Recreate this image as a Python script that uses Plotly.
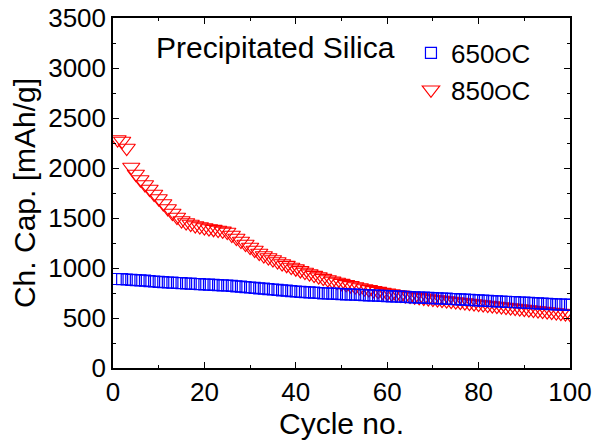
import plotly.graph_objects as go

# Charge capacity per cycle for precipitated silica annealed at two temperatures
cycles = list(range(1, 101))

cap_650 = [
    890, 888, 885, 882, 879, 876, 873, 869, 865, 861,
    858, 855, 853, 850, 848, 845, 843, 840, 838, 835,
    833, 831, 829, 827, 825, 821, 817, 813, 809, 805,
    801, 797, 793, 789, 785, 781, 777, 773, 769, 765,
    762, 759, 756, 753, 750, 747, 745, 743, 741, 739,
    737, 735, 733, 731, 729, 727, 725, 723, 721, 719,
    717, 715, 713, 711, 709, 707, 705, 703, 701, 699,
    697, 695, 693, 690, 688, 686, 683, 681, 679, 676,
    674, 672, 669, 667, 665, 662, 660, 658, 655, 653,
    651, 648, 646, 644, 641, 639, 637, 635, 633, 631,
]

cap_850 = [
    2285, 2270, 2200, 2010, 1940, 1885, 1835, 1790, 1740, 1695,
    1645, 1595, 1550, 1510, 1475, 1455, 1440, 1425, 1415, 1405,
    1395, 1388, 1380, 1372, 1360, 1330, 1300, 1270, 1240, 1210,
    1180, 1150, 1125, 1105, 1085, 1065, 1045, 1028, 1010, 993,
    976, 960, 944, 929, 914, 899, 885, 872, 860, 848,
    837, 826, 815, 805, 795, 786, 777, 768, 759, 751,
    743, 737, 731, 725, 719, 713, 707, 701, 695, 689,
    684, 679, 674, 669, 664, 659, 654, 649, 644, 639,
    634, 629, 624, 619, 614, 609, 604, 599, 594, 589,
    584, 579, 574, 569, 564, 559, 554, 549, 545, 541,
]

x_ticks = [0, 20, 40, 60, 80, 100]
y_ticks = [0, 500, 1000, 1500, 2000, 2500, 3000, 3500]

FONT = "Arial, Liberation Sans, sans-serif"
DEG_O = "<span style='font-size:22px'>O</span>"

fig = go.Figure()

# 850 °C drawn first so the 650 °C squares sit on top where the curves meet
fig.add_trace(go.Scatter(
    x=cycles, y=cap_850, mode="markers",
    name="850" + DEG_O + "C",
    legendrank=2,
    marker=dict(symbol="triangle-down-open", size=15, color="#ff0000",
                line=dict(width=1.2, color="#ff0000")),
))
fig.add_trace(go.Scatter(
    x=cycles, y=cap_650, mode="markers",
    name="650" + DEG_O + "C",
    legendrank=1,
    marker=dict(symbol="square-open", size=11, color="#0000ff",
                line=dict(width=1.2, color="#0000ff")),
))

axis_common = dict(
    showline=True, linecolor="black", linewidth=1.5, mirror="ticks",
    ticks="inside", ticklen=6, tickwidth=1.2, tickcolor="black",
    showgrid=False, zeroline=False, automargin=False,
    tickfont=dict(family=FONT, size=26, color="black"),
)

fig.update_xaxes(
    range=[0, 100], tickvals=x_ticks,
    minor=dict(ticks="inside", ticklen=3, tickwidth=1.2, tickcolor="black", dtick=10),
    title=dict(text="Cycle no.", font=dict(family=FONT, size=30, color="black"), standoff=4),
    **axis_common,
)
fig.update_yaxes(
    range=[0, 3500], tickvals=y_ticks,
    minor=dict(ticks="inside", ticklen=3, tickwidth=1.2, tickcolor="black", dtick=250),
    title=dict(text="Ch. Cap. [mAh/g]", font=dict(family=FONT, size=30, color="black"), standoff=4),
    **axis_common,
)

fig.add_annotation(
    text="Precipitated Silica", xref="paper", yref="paper",
    x=0.09, y=0.915, xanchor="left", yanchor="middle", showarrow=False,
    font=dict(family=FONT, size=30, color="black"),
)

fig.update_layout(
    width=595, height=446,
    margin=dict(l=113, r=25, t=18, b=78),
    paper_bgcolor="white", plot_bgcolor="white",
    showlegend=True,
    legend=dict(
        x=0.652, y=0.967, xanchor="left", yanchor="top",
        bgcolor="rgba(0,0,0,0)", tracegroupgap=0,
        font=dict(family=FONT, size=26, color="black"),
    ),
)

fig.write_html("out.html")
